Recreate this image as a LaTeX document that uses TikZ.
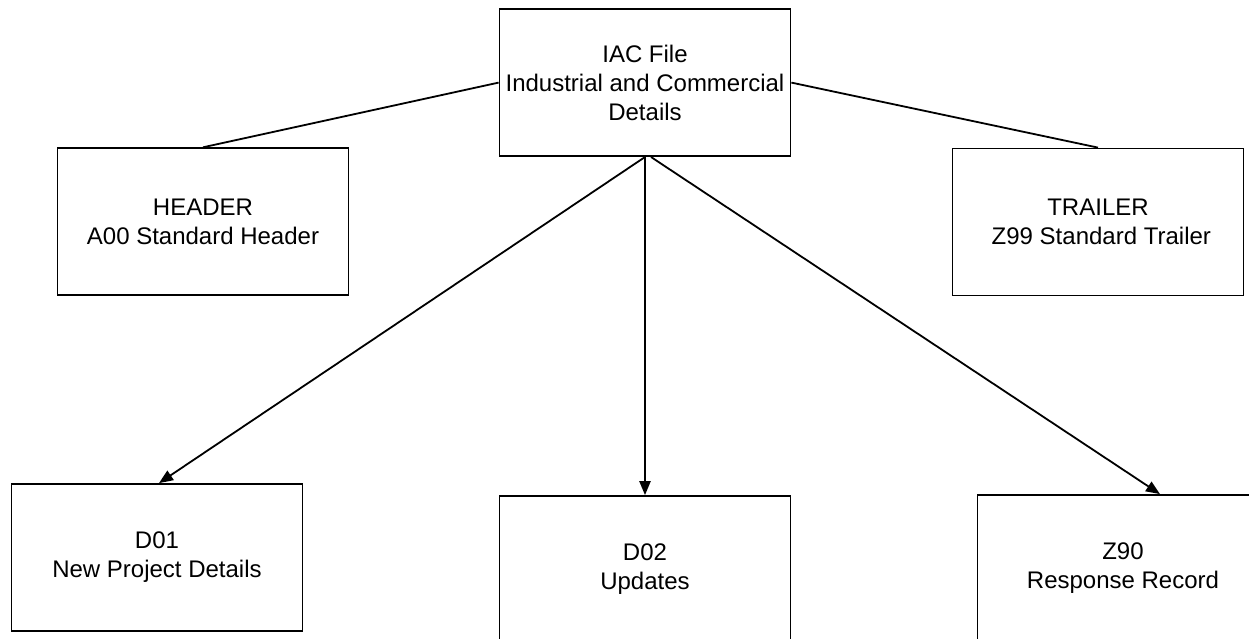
\documentclass[tikz,border=0pt]{standalone}
\usepackage{fontspec}
\setmainfont{Liberation Sans}
\usetikzlibrary{arrows.meta}
\begin{document}
\begin{tikzpicture}[x=0.5pt,y=-0.5pt,
  recbox/.style={draw, line width=0.9pt, minimum width=145.5pt, minimum height=73.5pt,
    inner sep=0pt, align=center, font=\fontsize{12}{14.5}\selectfont},
  link/.style={line width=0.9pt},
  arr/.style={line width=0.9pt, -{Triangle[length=7pt,width=5.6pt]}}]
\useasboundingbox (0,0) rectangle (1249,638);
\node [recbox] (iac) at (645,82.6) {IAC File\\Industrial and Commercial\\Details};
\node [recbox] (header) at (203,221.7) {HEADER\\A00 Standard Header};
\node [recbox] (trailer) at (1098,222) {TRAILER\\\ Z99 Standard Trailer};
\node [recbox] (d01) at (157,557.5) {D01\\New Project Details};
\node [recbox] (d02) at (645,569.5) {D02\\Updates};
\node [recbox] (z90) at (1123,568.5) {Z90\\Response Record};
\draw [link] (iac.west) -- (header.north);
\draw [link] (iac.east) -- (trailer.north);
\draw [arr] (iac.south) -- ([xshift=1pt]d01.north);
\draw [arr] (iac.south) -- (d02.north);
\draw [arr] ([xshift=3pt]iac.south) -- ([xshift=18.5pt]z90.north);
\end{tikzpicture}
\end{document}
